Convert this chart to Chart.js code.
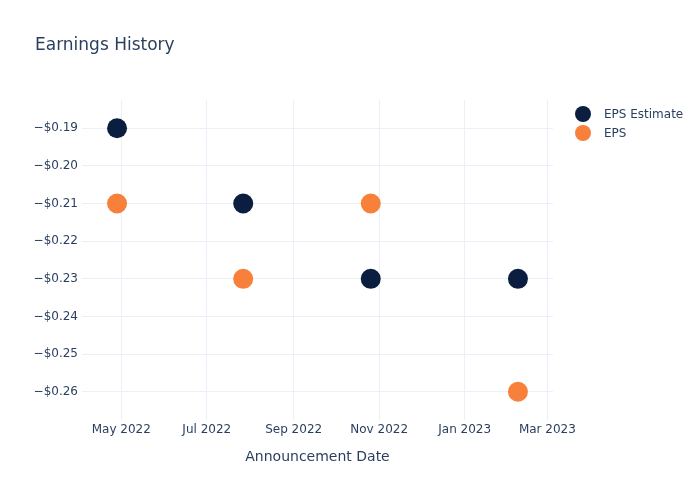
<!DOCTYPE html>
<html>
<head>
<meta charset="utf-8">
<title>Earnings History</title>
<script src="https://cdn.jsdelivr.net/npm/chart.js@4.4.1/dist/chart.umd.min.js"></script>
<style>
    html, body { margin: 0; padding: 0; background: #fff; }
    #wrap { width: 700px; height: 500px; }
</style>
</head>
<body>
<div id="wrap"><canvas id="myChart" width="700" height="500"></canvas></div>
<script>
// Data
const dates = ['2022-04-28', '2022-07-27', '2022-10-26', '2023-02-08'];
const epsEstimate = [-0.19, -0.21, -0.23, -0.23];
const eps = [-0.21, -0.23, -0.21, -0.26];

// tick labels
const xTicks = ['2022-05-01', '2022-07-01', '2022-09-01', '2022-11-01', '2023-01-01', '2023-03-01'];
const yTicks = [-0.19, -0.20, -0.21, -0.22, -0.23, -0.24, -0.25, -0.26];
const months = ['Jan', 'Feb', 'Mar', 'Apr', 'May', 'Jun', 'Jul', 'Aug', 'Sep', 'Oct', 'Nov', 'Dec'];

const textColor = '#2a3f5f';
const gridColor = '#ebf0f8';
const fontFamily = "'DejaVu Sans', Verdana, sans-serif";

const toPoints = vals => vals.map((v, i) => ({ x: Date.parse(dates[i]), y: v }));

// title + legend, drawn on the canvas
const extras = {
    id: 'extras',
    afterDraw(chart) {
        const ctx = chart.ctx;
        ctx.save();
        ctx.fillStyle = textColor;
        ctx.font = '17px ' + fontFamily;
        ctx.textBaseline = 'alphabetic';
        ctx.textAlign = 'left';
        ctx.fillText('Earnings History', 35, 50);

        ctx.font = '12px ' + fontFamily;
        ctx.textBaseline = 'middle';
        chart.data.datasets.forEach((ds, i) => {
            const y = 114 + i * 19;
            ctx.beginPath();
            ctx.arc(583, y, 8, 0, Math.PI * 2);
            ctx.fillStyle = ds.backgroundColor;
            ctx.fill();
            ctx.fillStyle = textColor;
            ctx.fillText(ds.label, 604, y + 1);
        });
        ctx.restore();
    }
};

let myChart = new Chart(document.getElementById('myChart'), {
    type: 'scatter',
    data: {
        datasets: [{
            label: 'EPS Estimate',
            data: toPoints(epsEstimate),
            backgroundColor: '#0c1e3f',
            borderColor: '#0c1e3f',
            pointBorderWidth: 0,
            pointRadius: 10,
            pointHoverRadius: 10
        }, {
            label: 'EPS',
            data: toPoints(eps),
            backgroundColor: '#f7813a',
            borderColor: '#f7813a',
            pointBorderWidth: 0,
            pointRadius: 10,
            pointHoverRadius: 10
        }]
    },
    options: {
        responsive: false,
        animation: false,
        layout: {
            padding: { top: 100, right: 147, bottom: 0, left: 0 }
        },
        plugins: {
            legend: { display: false },
            title: { display: false },
            tooltip: { enabled: false }
        },
        scales: {
            x: {
                type: 'linear',
                min: Date.parse('2022-04-03'),
                max: Date.parse('2023-03-05'),
                afterFit: scale => { scale.height = 80; },
                afterBuildTicks: scale => {
                    scale.ticks = xTicks.map(d => ({ value: Date.parse(d) }));
                },
                ticks: {
                    color: textColor,
                    font: { family: fontFamily, size: 12 },
                    padding: 3,
                    maxRotation: 0,
                    autoSkip: false,
                    callback: v => {
                        const d = new Date(v);
                        return months[d.getUTCMonth()] + ' ' + d.getUTCFullYear();
                    }
                },
                grid: { color: gridColor, drawTicks: false },
                border: { display: false },
                title: {
                    display: true,
                    text: 'Announcement Date',
                    color: textColor,
                    font: { family: fontFamily, size: 14 },
                    padding: { top: 0, bottom: 34 }
                }
            },
            y: {
                min: -0.2675,
                max: -0.1825,
                afterFit: scale => { scale.width = 82; },
                afterBuildTicks: scale => {
                    scale.ticks = yTicks.map(v => ({ value: v }));
                },
                ticks: {
                    color: textColor,
                    font: { family: fontFamily, size: 12 },
                    padding: 4,
                    callback: v => '\u2212$' + Math.abs(v).toFixed(2)
                },
                grid: { color: gridColor, drawTicks: false },
                border: { display: false }
            }
        }
    },
    plugins: [extras]
});
</script>
</body>
</html>
